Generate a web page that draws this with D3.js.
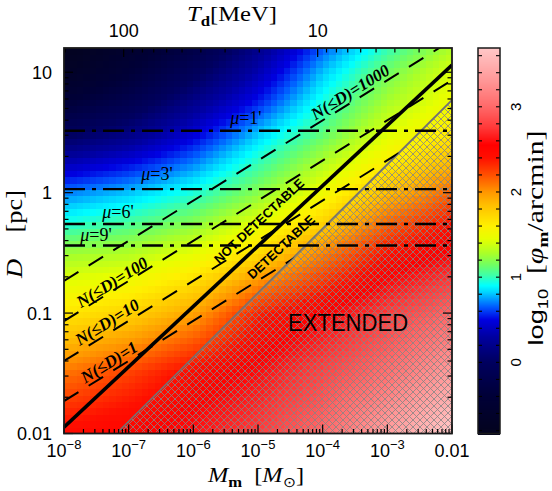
<!DOCTYPE html>
<html><head><meta charset="utf-8">
<script src="https://cdn.jsdelivr.net/npm/d3@7"></script>
<style>body{margin:0;background:#fff} svg{display:block}</style>
</head><body><svg id="c" width="552" height="491"></svg>
<script>
// ---------------- data ----------------
const massNodes = [1e-8, 1e-7, 1e-6, 1e-5, 1e-4, 1e-3, 1e-2];               // M_m [Msun]
const distNodes = [15.9, 10, 5.62, 3.16, 1.78, 1, 0.562, 0.316, 0.1, 0.0316, 0.01]; // D [pc]
const logPhiGrid = [
  [-0.83, -0.55, -0.25, 0.20, 0.65, 1.00, 1.30],
  [-0.70, -0.40, -0.05, 0.35, 0.80, 1.15, 1.42],
  [-0.40, -0.15, 0.20, 0.55, 0.95, 1.28, 1.50],
  [-0.05, 0.15, 0.45, 0.80, 1.10, 1.42, 1.64],
  [0.35, 0.50, 0.70, 1.00, 1.30, 1.60, 1.86],
  [0.70, 0.80, 0.95, 1.20, 1.50, 1.85, 2.15],
  [0.95, 1.05, 1.20, 1.45, 1.75, 2.15, 2.40],
  [1.25, 1.30, 1.45, 1.70, 2.05, 2.40, 2.58],
  [1.65, 1.75, 1.95, 2.35, 2.55, 2.78, 3.00],
  [2.10, 2.25, 2.45, 2.60, 2.82, 3.05, 3.35],
  [2.45, 2.52, 2.62, 2.78, 3.02, 3.38, 3.69]
];
const colorStopValues = [-0.835, -0.4, 0.0, 0.3, 0.5, 0.65, 0.82, 0.9, 1.02, 1.14, 1.28, 1.45, 1.6, 1.85, 2.0, 2.2, 2.4, 2.55, 2.75, 3.0, 3.3, 3.69];
const colorStopColors = ["#04041e","#000037","#00005f","#0000a0","#0000e1","#005aff","#00d2ff","#00ffff","#3cffaa","#6eff64","#aaff28","#e6ff00","#fff000","#ffbe00","#ff9600","#ff5000","#ff0f00","#ff0000","#ff3737","#ff6969","#ff9696","#ffc8c8"];
const colorbarDomain = [-0.835, 3.69];
const colorbarTicks = [0, 1, 2, 3];

const xTicks = [1e-8, 1e-7, 1e-6, 1e-5, 1e-4, 1e-3, 1e-2];
const xTickLabels = [["10","\u22128"],["10","\u22127"],["10","\u22126"],["10","\u22125"],["10","\u22124"],["10","\u22123"],["0.01",""]];
const yTicks = [0.01, 0.1, 1, 10];
const yTickLabels = ["0.01", "0.1", "1", "10"];
const tempDomain = [203, 2.03];         // T_d [MeV] at the left / right plot edges
const tempTicks = [100, 10];
const tempTickLabels = ["100", "10"];

const muValues = ["1'", "3'", "6'", "9'"];
const muDistances = [3.27, 1.07, 0.549, 0.364];
const muLabelPos = [[6.5e-6, 4.17], [2.74e-7, 1.43], [6.84e-8, 0.692], [3.13e-8, 0.446]];

const nValues = ["1", "10", "100", "1000"];
const nLineStart = [[1e-8, 0.0186], [1e-8, 0.040], [1e-8, 0.0859], [1e-8, 0.185]];
const nLineEnd = [[1e-2, 1.86], [1e-2, 4.0], [1e-2, 8.59], [1e-2, 18.5]];
const nLabelPos = [[4.97e-8, 0.0393], [4.63e-8, 0.0843], [5.52e-8, 0.181], [2.65e-4, 6.86]];

const detectLine = [[1e-8, 0.0113], [1e-2, 11.5]];
const extendedEdge = [[6.84e-8, 0.0103], [1e-2, 5.89]];
const notDetectPos = [1.035e-5, 0.582];
const detectPos = [2.27e-5, 0.354];
const extendedPos = [2.47e-4, 0.0828];

// ---------------- layout ----------------
const X0 = 64, X1 = 452, Y0 = 48, Y1 = 433.5;
const svg = d3.select("#c");
const x = d3.scaleLog().domain([1e-8, 1e-2]).range([X0, X1]);
const y = d3.scaleLog().domain([0.01, 15.9]).range([Y1, Y0]);
const tx = d3.scaleLog().domain(tempDomain).range([X0, X1]);
const color = d3.scaleLinear().domain(colorStopValues).range(colorStopColors).clamp(true);
const SERIF = "'Liberation Serif','Times New Roman',serif";
const SANS = "'Liberation Sans',Arial,Helvetica,sans-serif";

const defs = svg.append("defs");
defs.append("clipPath").attr("id", "plotclip").append("rect")
  .attr("x", X0).attr("y", Y0).attr("width", X1 - X0).attr("height", Y1 - Y0);
const pat = defs.append("pattern").attr("id", "hatch").attr("patternUnits", "userSpaceOnUse")
  .attr("width", 7).attr("height", 7);
pat.append("path").attr("d", "M0,0L7,7M7,0L0,7")
  .attr("stroke", "#858585").attr("stroke-width", 0.8).attr("fill", "none");

// region not extended (for N lines)
const freePoly = [[1e-8, 15.9], [1e-2, 15.9], extendedEdge[1], extendedEdge[0], [1e-8, 0.01]];
defs.append("clipPath").attr("id", "freeclip").append("polygon")
  .attr("points", freePoly.map(p => [x(p[0]), y(p[1])].join(",")).join(" "));

// ---------------- heatmap ----------------
const lmn = massNodes.map(Math.log10), ldn = distNodes.map(Math.log10);
function field(lm, ld) {
  let i = 0; while (i < lmn.length - 2 && lm > lmn[i + 1]) i++;
  let j = 0; while (j < ldn.length - 2 && ld < ldn[j + 1]) j++;
  const fx = Math.max(0, Math.min(1, (lm - lmn[i]) / (lmn[i + 1] - lmn[i])));
  const fy = Math.max(0, Math.min(1, (ld - ldn[j]) / (ldn[j + 1] - ldn[j])));
  const g = logPhiGrid;
  const a = g[j][i] * (1 - fx) + g[j][i + 1] * fx;
  const b = g[j + 1][i] * (1 - fx) + g[j + 1][i + 1] * fx;
  return a * (1 - fy) + b * fy;
}
const NC = 60, NR = 60;
const lmMin = Math.log10(1e-8), lmMax = Math.log10(1e-2);
const ldMin = Math.log10(0.01), ldMax = Math.log10(15.9);
const cells = [];
for (let c = 0; c < NC; c++) for (let r = 0; r < NR; r++) {
  const lmA = lmMin + (lmMax - lmMin) * c / NC, lmB = lmMin + (lmMax - lmMin) * (c + 1) / NC;
  const ldA = ldMin + (ldMax - ldMin) * r / NR, ldB = ldMin + (ldMax - ldMin) * (r + 1) / NR;
  cells.push({ lmA, lmB, ldA, ldB, v: field((lmA + lmB) / 2, (ldA + ldB) / 2) });
}
svg.append("g").attr("clip-path", "url(#plotclip)").selectAll("rect").data(cells).join("rect")
  .attr("x", d => x(Math.pow(10, d.lmA)))
  .attr("y", d => y(Math.pow(10, d.ldB)))
  .attr("width", d => x(Math.pow(10, d.lmB)) - x(Math.pow(10, d.lmA)) + 0.6)
  .attr("height", d => y(Math.pow(10, d.ldA)) - y(Math.pow(10, d.ldB)) + 0.6)
  .attr("fill", d => color(d.v)).attr("shape-rendering", "crispEdges");

// ---------------- extended (hatched) region ----------------
const ext = svg.append("g").attr("clip-path", "url(#plotclip)");
const hatchPoly = [extendedEdge[0], extendedEdge[1], [1e-2, 0.01]];
ext.append("polygon").attr("points", hatchPoly.map(p => [x(p[0]), y(p[1])].join(",")).join(" "))
  .attr("fill", "url(#hatch)");
ext.append("line").attr("x1", x(extendedEdge[0][0])).attr("y1", y(extendedEdge[0][1]))
  .attr("x2", x(extendedEdge[1][0])).attr("y2", y(extendedEdge[1][1]))
  .attr("stroke", "#727272").attr("stroke-width", 1.6);

// ---------------- mu lines ----------------
const lines = svg.append("g").attr("clip-path", "url(#plotclip)");
lines.selectAll("line.mu").data(muDistances).join("line").attr("class", "mu")
  .attr("x1", X0).attr("x2", X1).attr("y1", d => y(d)).attr("y2", d => y(d))
  .attr("stroke", "#000").attr("stroke-width", 2.4).attr("stroke-dasharray", "21,7,4,7");

// ---------------- N(<D) lines ----------------
const nl = svg.append("g").attr("clip-path", "url(#plotclip)").append("g").attr("clip-path", "url(#freeclip)");
nl.selectAll("line").data(nValues.map((n, k) => k)).join("line")
  .attr("x1", k => x(nLineStart[k][0])).attr("y1", k => y(nLineStart[k][1]))
  .attr("x2", k => x(nLineEnd[k][0])).attr("y2", k => y(nLineEnd[k][1]))
  .attr("stroke", "#000").attr("stroke-width", 2).attr("stroke-dasharray", "17,12");

// ---------------- detection threshold ----------------
lines.append("line").attr("x1", x(detectLine[0][0])).attr("y1", y(detectLine[0][1]))
  .attr("x2", x(detectLine[1][0])).attr("y2", y(detectLine[1][1]))
  .attr("stroke", "#000").attr("stroke-width", 3.6);

// ---------------- annotations ----------------
const ann = svg.append("g");
muValues.forEach((m, k) => {
  const t = ann.append("text").attr("x", x(muLabelPos[k][0])).attr("y", y(muLabelPos[k][1]))
    .attr("dy", "0.35em").attr("text-anchor", "middle").attr("font-family", SERIF).attr("font-size", 18);
  t.append("tspan").attr("font-style", "italic").text("\u03bc");
  t.append("tspan").text("=" + m);
});
const nAngle = -Math.atan((y(nLineStart[0][1]) - y(nLineEnd[0][1])) / (x(nLineEnd[0][0]) - x(nLineStart[0][0]))) * 180 / Math.PI;
nValues.forEach((n, k) => {
  const px = x(nLabelPos[k][0]), py = y(nLabelPos[k][1]);
  const t = ann.append("text").attr("transform", `translate(${px},${py}) rotate(${nAngle})`)
    .attr("dy", "0.35em").attr("text-anchor", "middle").attr("font-family", SERIF)
    .attr("font-size", 17).attr("font-style", "italic").attr("font-weight", "bold");
  t.append("tspan").text("N(\u2264D)=" + n);
});
const dAngle = -Math.atan((y(detectLine[0][1]) - y(detectLine[1][1])) / (x(detectLine[1][0]) - x(detectLine[0][0]))) * 180 / Math.PI;
[[notDetectPos, "NOT DETECTABLE"], [detectPos, "DETECTABLE"]].forEach(([p, s]) => {
  ann.append("text").attr("transform", `translate(${x(p[0])},${y(p[1])}) rotate(${dAngle})`)
    .attr("dy", "0.35em").attr("text-anchor", "middle").attr("font-family", SANS)
    .attr("font-size", 13).attr("font-weight", "bold").text(s);
});
ann.append("text").attr("x", x(extendedPos[0])).attr("y", y(extendedPos[1])).attr("dy", "0.35em")
  .attr("text-anchor", "middle").attr("font-family", SANS).attr("font-size", 23)
  .attr("textLength", 120).attr("lengthAdjust", "spacingAndGlyphs").text("EXTENDED");

// ---------------- frame & ticks ----------------
const ax = svg.append("g").attr("stroke", "#000").attr("stroke-width", 1.2);
function logTicks(dom) {
  const lo = Math.min(...dom), hi = Math.max(...dom), out = [];
  for (let k = Math.floor(Math.log10(lo)); k <= Math.ceil(Math.log10(hi)); k++)
    for (let m = 1; m <= 9; m++) { const v = m * Math.pow(10, k); if (v >= lo * 0.999 && v <= hi * 1.001) out.push({ v, major: m === 1 }); }
  return out;
}
logTicks(x.domain()).forEach(t => {
  const L = t.major ? 9 : 4.5, px = x(t.v);
  ax.append("line").attr("x1", px).attr("x2", px).attr("y1", Y1).attr("y2", Y1 - L);
});
logTicks(tx.domain()).forEach(t => {
  const L = t.major ? 9 : 4.5, px = tx(t.v);
  if (px < X0 + 0.5 || px > X1 - 0.5) return;
  ax.append("line").attr("x1", px).attr("x2", px).attr("y1", Y0).attr("y2", Y0 + L);
});
logTicks(y.domain()).forEach(t => {
  const L = t.major ? 9 : 4.5, py = y(t.v);
  ax.append("line").attr("x1", X0).attr("x2", X0 + L).attr("y1", py).attr("y2", py);
  ax.append("line").attr("x1", X1).attr("x2", X1 - L).attr("y1", py).attr("y2", py);
});
svg.append("rect").attr("x", X0).attr("y", Y0).attr("width", X1 - X0).attr("height", Y1 - Y0)
  .attr("fill", "none").attr("stroke", "#1a1a1a").attr("stroke-width", 1.8);

// tick labels
const tl = svg.append("g").attr("font-family", SANS).attr("fill", "#000");
xTicks.forEach((v, k) => {
  const [base, sup] = xTickLabels[k];
  const t = tl.append("text").attr("x", x(v)).attr("y", 457).attr("text-anchor", "middle").attr("font-size", 18);
  t.append("tspan").text(base);
  if (sup) t.append("tspan").attr("font-size", 13).attr("dy", -8).text(sup);
});
yTicks.forEach((v, k) => {
  tl.append("text").attr("x", 52).attr("y", y(v)).attr("dy", "0.36em").attr("text-anchor", "end")
    .attr("font-size", 18).text(yTickLabels[k]);
});
tempTicks.forEach((v, k) => {
  tl.append("text").attr("x", tx(v)).attr("y", 37).attr("text-anchor", "middle").attr("font-size", 18).text(tempTickLabels[k]);
});

// axis titles
const xt = svg.append("text").attr("x", 256).attr("y", 482).attr("text-anchor", "middle")
  .attr("font-family", SERIF).attr("font-size", 22).attr("textLength", 96).attr("lengthAdjust", "spacingAndGlyphs");
xt.append("tspan").attr("font-style", "italic").text("M");
xt.append("tspan").attr("font-size", 15).attr("font-weight", "bold").attr("dy", 5).text("m");
xt.append("tspan").attr("dy", -5).text("\u2002[");
xt.append("tspan").attr("font-style", "italic").text("M");
xt.append("tspan").attr("font-size", 14).attr("dy", 5).text("\u2299");
xt.append("tspan").attr("dy", -5).text("]");

const tt = svg.append("text").attr("x", 232).attr("y", 21).attr("text-anchor", "middle")
  .attr("font-family", SERIF).attr("font-size", 22).attr("textLength", 90).attr("lengthAdjust", "spacingAndGlyphs");
tt.append("tspan").attr("font-style", "italic").text("T");
tt.append("tspan").attr("font-size", 15).attr("font-weight", "bold").attr("dy", 5).text("d");
tt.append("tspan").attr("dy", -5).text("[MeV]");

const yt = svg.append("text").attr("transform", "translate(22,234) rotate(-90)").attr("text-anchor", "middle")
  .attr("font-family", SERIF).attr("font-size", 23).attr("textLength", 88).attr("lengthAdjust", "spacingAndGlyphs");
yt.append("tspan").attr("font-style", "italic").text("D");
yt.append("tspan").text("\u2003[pc]");

// ---------------- colorbar ----------------
const CB0 = 478, CB1 = 500;
const cy = d3.scaleLinear().domain(colorbarDomain).range([Y1, Y0]);
const cb = svg.append("g");
const rows = d3.range(Y0, Y1, 1);
cb.selectAll("rect").data(rows).join("rect")
  .attr("x", CB0).attr("width", CB1 - CB0).attr("y", d => d).attr("height", 1.6)
  .attr("fill", d => color(cy.invert(d + 0.5))).attr("shape-rendering", "crispEdges");
const cbt = d3.range(-8, 37, 2).map(v => v / 10);
cbt.forEach(v => {
  const py = cy(v);
  cb.append("line").attr("x1", CB0).attr("x2", CB0 + 4).attr("y1", py).attr("y2", py).attr("stroke", "#000").attr("stroke-width", 1.1);
  cb.append("line").attr("x1", CB1).attr("x2", CB1 - 4).attr("y1", py).attr("y2", py).attr("stroke", "#000").attr("stroke-width", 1.1);
});
cb.append("rect").attr("x", CB0).attr("y", Y0).attr("width", CB1 - CB0).attr("height", Y1 - Y0)
  .attr("fill", "none").attr("stroke", "#1a1a1a").attr("stroke-width", 1.5);
colorbarTicks.forEach(v => {
  cb.append("text").attr("transform", `translate(521,${cy(v)}) rotate(-90)`).attr("text-anchor", "middle")
    .attr("font-family", SANS).attr("font-size", 15).text(v);
});
const ct = svg.append("text").attr("transform", "translate(543,238) rotate(-90)").attr("text-anchor", "middle")
  .attr("font-family", SERIF).attr("font-size", 23).attr("textLength", 215).attr("lengthAdjust", "spacingAndGlyphs");
ct.append("tspan").attr("font-family", SANS).attr("font-size", 21).text("log");
ct.append("tspan").attr("font-family", SANS).attr("font-size", 14).attr("dy", 5).text("10");
ct.append("tspan").attr("dy", -5).text("\u2002[");
ct.append("tspan").attr("font-style", "italic").text("\u03c6");
ct.append("tspan").attr("font-size", 15).attr("font-weight", "bold").attr("dy", 5).text("m");
ct.append("tspan").attr("dy", -5).text("/arcmin]");
</script></body></html>
